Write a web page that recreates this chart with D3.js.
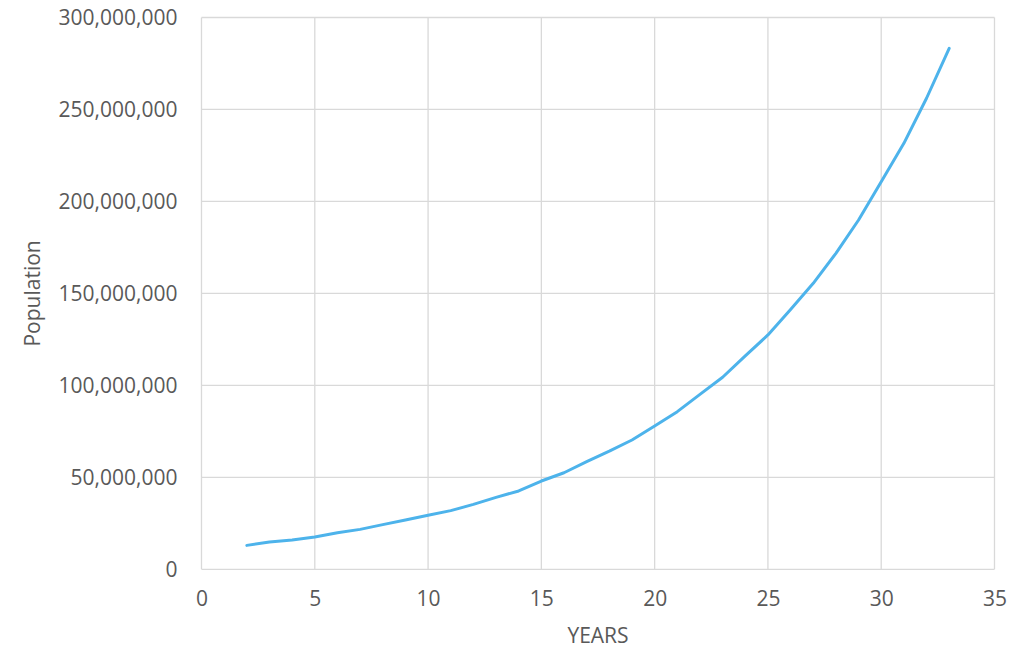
<!DOCTYPE html>
<html>
<head>
<meta charset="utf-8">
<script src="https://cdn.jsdelivr.net/npm/d3@7"></script>
<style>
  body { margin: 0; background: #fff; }
  text { font-family: "Open Sans", sans-serif; fill: #595959; }
</style>
</head>
<body>
<svg id="chart"></svg>
<script>
const years = [2, 3, 4, 5, 6, 7, 8, 9, 10, 11, 12, 13, 14, 15, 16, 17, 18, 19, 20, 21, 22, 23, 24, 25, 26, 27, 28, 29, 30, 31, 32, 33];
const population = [13.0, 14.8, 15.9, 17.6, 19.9, 21.7, 24.3, 26.8, 29.4, 31.9, 35.3, 39.1, 42.6, 48.0, 52.5, 58.5, 64.2, 70.3, 77.9, 85.7, 95.1, 104.4, 116.0, 127.4, 141.3, 155.5, 171.8, 189.9, 210.7, 231.6, 256.1, 283.2].map(v => v * 1e6);
const xTicks = [0, 5, 10, 15, 20, 25, 30, 35];
const yTicks = [0, 50e6, 100e6, 150e6, 200e6, 250e6, 300e6];

const width = 1024;
const height = 669;
const margin = { top: 17.5, right: 29.5, bottom: 99.7, left: 201.5 };

const svg = d3.select("#chart")
    .attr("width", width)
    .attr("height", height);

const x = d3.scaleLinear()
    .domain([0, 35])
    .range([margin.left, width - margin.right]);

const y = d3.scaleLinear()
    .domain([0, 300e6])
    .range([height - margin.bottom, margin.top]);

// gridlines
svg.append("g")
    .selectAll("line")
    .data(xTicks)
    .enter()
    .append("line")
    .attr("x1", d => x(d))
    .attr("x2", d => x(d))
    .attr("y1", y(0))
    .attr("y2", y(300e6))
    .attr("stroke", "#d9d9d9")
    .attr("stroke-width", 1.3);

svg.append("g")
    .selectAll("line")
    .data(yTicks)
    .enter()
    .append("line")
    .attr("x1", x(0))
    .attr("x2", x(35))
    .attr("y1", d => y(d))
    .attr("y2", d => y(d))
    .attr("stroke", "#d9d9d9")
    .attr("stroke-width", 1.3);

// axes (labels only)
const xAxis = svg.append("g")
    .attr("transform", `translate(0,${y(0)})`)
    .call(d3.axisBottom(x).tickValues(xTicks).tickSize(0).tickPadding(22));
xAxis.select(".domain").remove();
xAxis.selectAll("text").style("font-size", "21px").attr("fill", "#595959");

const fmt = d3.format(",");
const yAxis = svg.append("g")
    .attr("transform", `translate(${x(0)},0)`)
    .call(d3.axisLeft(y).tickValues(yTicks).tickFormat(fmt).tickSize(0).tickPadding(24));
yAxis.select(".domain").remove();
yAxis.selectAll("text").style("font-size", "21px").attr("fill", "#595959");

// series line
const line = d3.line()
    .x((d, i) => x(years[i]))
    .y(d => y(d));

svg.append("path")
    .datum(population)
    .attr("d", line)
    .attr("fill", "none")
    .attr("stroke", "#4db3eb")
    .attr("stroke-width", 3)
    .attr("stroke-linejoin", "round")
    .attr("stroke-linecap", "round");

// axis titles
svg.append("text")
    .attr("x", (x(0) + x(35)) / 2)
    .attr("y", 643)
    .attr("text-anchor", "middle")
    .style("font-size", "21px")
    .text("YEARS");

svg.append("text")
    .attr("transform", `translate(40,${(y(0) + y(300e6)) / 2}) rotate(-90)`)
    .attr("text-anchor", "middle")
    .style("font-size", "21px")
    .text("Population");
</script>
</body>
</html>
